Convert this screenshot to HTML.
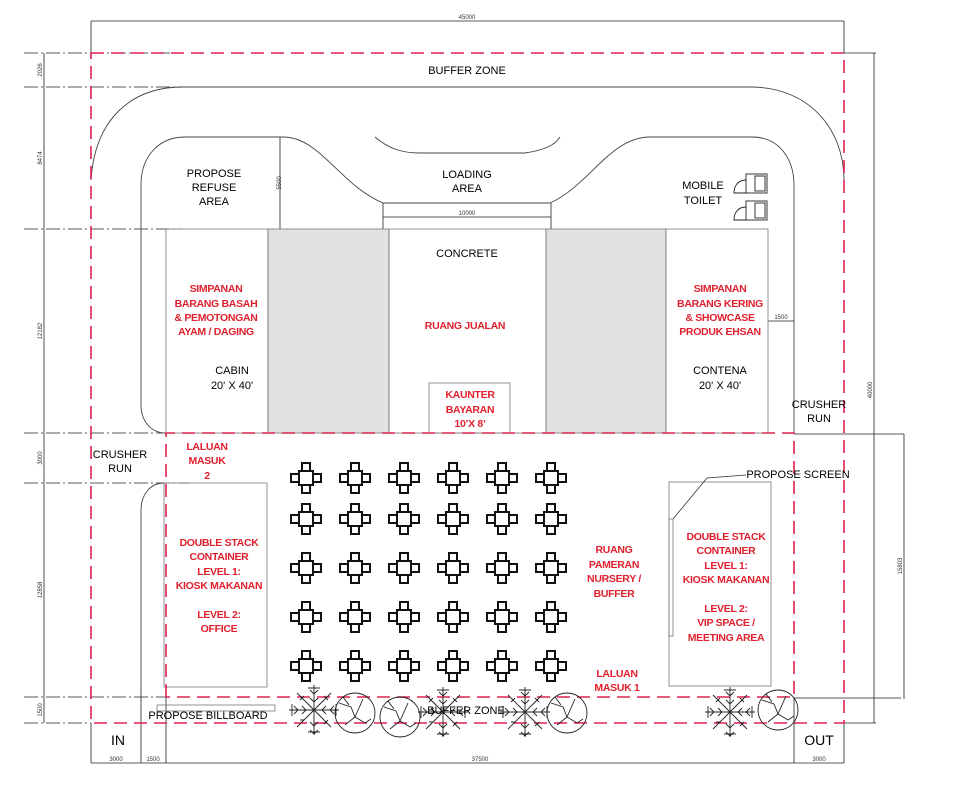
<!DOCTYPE html>
<html><head><meta charset="utf-8"><style>
body{margin:0;background:#fff}
svg{display:block}
text{font-family:"Liberation Sans Narrow","Liberation Sans",sans-serif;font-size:11px;text-anchor:middle}
.r text{fill:#e0202e;font-weight:bold;font-size:10.5px;letter-spacing:-0.3px}
.d text{font-size:6px;fill:#333}
</style></head><body>
<svg width="974" height="785" viewBox="0 0 974 785" xmlns="http://www.w3.org/2000/svg">
<defs>
<g id="t" fill="#fff" stroke="#111" stroke-width="2">
<rect x="-7" y="-7" width="14" height="14"/>
<rect x="-4" y="-15" width="8" height="8"/>
<rect x="-4" y="7" width="8" height="8"/>
<rect x="-15" y="-4" width="8" height="8"/>
<rect x="7" y="-4" width="8" height="8"/>
</g>
<g id="f" stroke="#222" stroke-width="0.9" fill="none">
<path d="M0,-25 L0,25 M-25,0 L25,0 M-17,-17 L17,17 M-17,17 L17,-17"/>
<path d="M-4,-20 L0,-16 L4,-20 M-4,-12 L0,-8 L4,-12 M-4,12 L0,16 L4,12 M-4,20 L0,24 L4,20 M-20,-4 L-16,0 L-20,4 M-12,-4 L-8,0 L-12,4 M20,-4 L16,0 L20,4 M12,-4 L8,0 L12,4 M-14,-10 L-12,-12 L-10,-14 M10,14 L12,12 L14,10 M-14,10 L-10,10 M10,-14 L14,-10 M-6,-22 L6,-22 M-6,22 L6,22 M-22,-6 L-22,6 M22,-6 L22,6"/>
</g>
<g id="c" stroke="#222" stroke-width="0.9" fill="none">
<circle r="20"/>
<path d="M-16,-10 L-4,-6 L0,4 L8,-14 M0,4 L-10,12 M0,4 L10,10 L16,6 M-12,-16 L-6,-8"/>
</g>
</defs>

<g stroke="#222" stroke-width="0.8" fill="none">
<line x1="91" y1="21" x2="844" y2="21"/>
<line x1="91" y1="21" x2="91" y2="53"/>
<line x1="844" y1="21" x2="844" y2="53"/>
<line x1="44" y1="53" x2="44" y2="723"/>
<line x1="874" y1="53" x2="874" y2="723"/>
<line x1="844" y1="53" x2="876" y2="53"/>
<line x1="844" y1="723" x2="876" y2="723"/>
<line x1="904" y1="434" x2="904" y2="699"/>
<line x1="794" y1="434" x2="904" y2="434"/>
<line x1="794" y1="698" x2="901" y2="698"/>
<line x1="91" y1="763" x2="844" y2="763"/>
<line x1="91" y1="723" x2="91" y2="763"/>
<line x1="141" y1="690" x2="141" y2="763"/>
<line x1="166" y1="697" x2="166" y2="763"/>
<line x1="794" y1="697" x2="794" y2="763"/>
<line x1="844" y1="723" x2="844" y2="763"/>
<line x1="383" y1="217" x2="551" y2="217"/>
<line x1="383" y1="203" x2="383" y2="229"/>
<line x1="551" y1="203" x2="551" y2="229"/>
<line x1="768" y1="321" x2="794" y2="321"/>
<line x1="280" y1="137" x2="280" y2="229"/>
</g>
<g stroke="#222" stroke-width="0.8" stroke-dasharray="14,3,2,3">
<line x1="24" y1="53" x2="180" y2="53"/>
<line x1="24" y1="87" x2="183" y2="87"/>
<line x1="24" y1="229" x2="180" y2="229"/>
<line x1="24" y1="433" x2="166" y2="433"/>
<line x1="24" y1="483" x2="190" y2="483"/>
<line x1="24" y1="697" x2="166" y2="697"/>
<line x1="24" y1="723" x2="91" y2="723"/>
</g>
<g class="d">
<text transform="translate(42,70) rotate(-90)">2026</text>
<text transform="translate(42,158) rotate(-90)">8474</text>
<text transform="translate(42,331) rotate(-90)">12182</text>
<text transform="translate(42,458) rotate(-90)">3000</text>
<text transform="translate(42,590) rotate(-90)">12858</text>
<text transform="translate(42,710) rotate(-90)">1500</text>
<text transform="translate(281,183) rotate(-90)">5500</text>
<text transform="translate(872,390) rotate(-90)">40000</text>
<text transform="translate(902,566) rotate(-90)">15803</text>
<text x="467" y="19">45000</text>
<text x="467" y="215">10000</text>
<text x="781" y="319">1500</text>
<text x="116" y="761">3000</text>
<text x="153" y="761">1500</text>
<text x="480" y="761">37500</text>
<text x="819" y="761">3000</text>
</g>

<g stroke="#444" stroke-width="0.9" fill="none">
<path d="M91,180 C95,120 130,87 183,87 L750,87 C810,87 844,130 844,180"/>
<path d="M166,433 C150,433 141,420 141,405 L141,185 C141,155 160,137 185,137 L283,137 C320,137 340,185 383,203 L550,203 C590,185 610,137 650,137 L752,137 C780,137 794,160 794,185 L794,433"/>
<path d="M375,137 C390,150 405,153 420,153 L525,153 C545,150 555,145 560,137"/>
<path d="M164,483 C150,483 141,495 141,510 L141,700"/>
</g>

<rect x="268" y="229" width="121" height="204" fill="#e3e1e3" stroke="#777" stroke-width="0.8"/>
<rect x="546" y="229" width="120" height="204" fill="#e3e1e3" stroke="#777" stroke-width="0.8"/>
<g fill="none" stroke="#777" stroke-width="0.8">
<rect x="166" y="229" width="102" height="204"/>
<rect x="389" y="229" width="157" height="204"/>
<rect x="666" y="229" width="102" height="204"/>
<rect x="429" y="383" width="81" height="50"/>
<rect x="164" y="483" width="103" height="204"/>
<rect x="669" y="482" width="102" height="204"/>
<rect x="669" y="519" width="4" height="117"/>
<rect x="157" y="705" width="118" height="6"/>
<polyline points="673,519 707,478 746,475" stroke="#333"/>
</g>
<g stroke="#222" stroke-width="0.9" fill="#fff">
<rect x="746" y="174" width="21" height="19"/><rect x="755" y="176" width="10" height="15"/>
<rect x="746" y="201" width="21" height="19"/><rect x="755" y="203" width="10" height="15"/>
<path d="M746,180 C738,180 734,186 734,193 L746,193" fill="none"/>
<path d="M746,207 C738,207 734,213 734,220 L746,220" fill="none"/>
</g>

<g stroke="#e0204e" stroke-width="1.6" fill="none" stroke-dasharray="13,7">
<rect x="91" y="53" width="753" height="670"/>
<path d="M166,697 L166,433 L794,433 L794,697 L166,697"/>
</g>

<g>
<use href="#t" x="306" y="478"/><use href="#t" x="355" y="478"/><use href="#t" x="404" y="478"/><use href="#t" x="453" y="478"/><use href="#t" x="502" y="478"/><use href="#t" x="551" y="478"/>
<use href="#t" x="306" y="519"/><use href="#t" x="355" y="519"/><use href="#t" x="404" y="519"/><use href="#t" x="453" y="519"/><use href="#t" x="502" y="519"/><use href="#t" x="551" y="519"/>
<use href="#t" x="306" y="568"/><use href="#t" x="355" y="568"/><use href="#t" x="404" y="568"/><use href="#t" x="453" y="568"/><use href="#t" x="502" y="568"/><use href="#t" x="551" y="568"/>
<use href="#t" x="306" y="617"/><use href="#t" x="355" y="617"/><use href="#t" x="404" y="617"/><use href="#t" x="453" y="617"/><use href="#t" x="502" y="617"/><use href="#t" x="551" y="617"/>
<use href="#t" x="306" y="666"/><use href="#t" x="355" y="666"/><use href="#t" x="404" y="666"/><use href="#t" x="453" y="666"/><use href="#t" x="502" y="666"/><use href="#t" x="551" y="666"/>
</g>
<use href="#f" x="314" y="710"/><use href="#f" x="443" y="712"/><use href="#f" x="525" y="712"/><use href="#f" x="730" y="712"/>
<use href="#c" x="355" y="713"/><use href="#c" x="400" y="717"/><use href="#c" x="567" y="713"/><use href="#c" x="778" y="710"/>

<text x="467" y="74">BUFFER ZONE</text>
<text x="214" y="177">PROPOSE</text><text x="214" y="191">REFUSE</text><text x="214" y="205">AREA</text>
<text x="467" y="178">LOADING</text><text x="467" y="192">AREA</text>
<text x="703" y="189">MOBILE</text><text x="703" y="204">TOILET</text>
<text x="467" y="257">CONCRETE</text>
<g class="r">
<text x="216" y="292">SIMPANAN</text><text x="216" y="307">BARANG BASAH</text><text x="216" y="321">&amp; PEMOTONGAN</text><text x="216" y="335">AYAM / DAGING</text>
<text x="465" y="329">RUANG JUALAN</text>
<text x="470" y="398">KAUNTER</text><text x="470" y="413">BAYARAN</text><text x="470" y="427">10’X 8’</text>
<text x="720" y="292">SIMPANAN</text><text x="720" y="307">BARANG KERING</text><text x="720" y="321">&amp; SHOWCASE</text><text x="720" y="335">PRODUK EHSAN</text>
<text x="207" y="450">LALUAN</text><text x="207" y="464">MASUK</text><text x="207" y="479">2</text>
<text x="219" y="546">DOUBLE STACK</text><text x="219" y="560">CONTAINER</text><text x="219" y="575">LEVEL 1:</text><text x="219" y="589">KIOSK MAKANAN</text>
<text x="219" y="618">LEVEL 2:</text><text x="219" y="632">OFFICE</text>
<text x="614" y="553">RUANG</text><text x="614" y="568">PAMERAN</text><text x="614" y="582">NURSERY /</text><text x="614" y="597">BUFFER</text>
<text x="617" y="677">LALUAN</text><text x="617" y="691">MASUK 1</text>
<text x="726" y="540">DOUBLE STACK</text><text x="726" y="554">CONTAINER</text><text x="726" y="569">LEVEL 1:</text><text x="726" y="583">KIOSK MAKANAN</text>
<text x="726" y="612">LEVEL 2:</text><text x="726" y="626">VIP SPACE /</text><text x="726" y="641">MEETING AREA</text>
</g>
<text x="232" y="374">CABIN</text><text x="232" y="389">20' X 40'</text>
<text x="720" y="374">CONTENA</text><text x="720" y="389">20' X 40'</text>
<text x="819" y="408">CRUSHER</text><text x="819" y="422">RUN</text>
<text x="120" y="458">CRUSHER</text><text x="120" y="472">RUN</text>
<text x="798" y="478">PROPOSE SCREEN</text>
<text x="208" y="719">PROPOSE BILLBOARD</text>
<text x="466" y="714">BUFFER ZONE</text>
<text x="118" y="745" style="font-size:14px">IN</text>
<text x="819" y="745" style="font-size:14px">OUT</text>
</svg>
</body></html>
